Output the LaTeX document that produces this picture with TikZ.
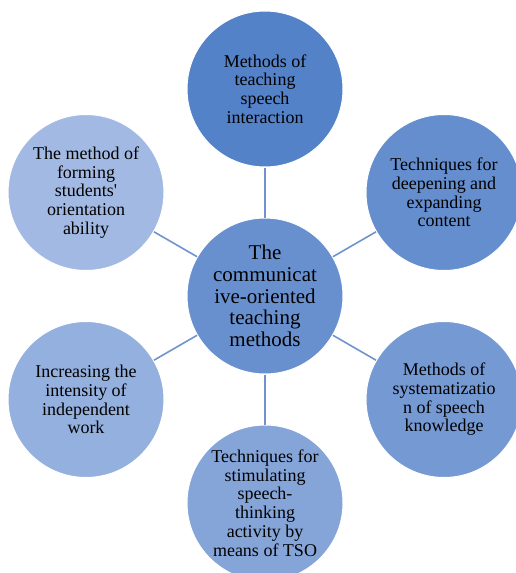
\documentclass[tikz,border=0pt]{standalone}
\usepackage{fontspec}
\setmainfont{Liberation Serif}[Ligatures=TeXOff]
\definecolor{hubblue}{RGB}{104,144,207}
\definecolor{ringA}{RGB}{84,130,200}
\definecolor{ringB}{RGB}{101,142,206}
\definecolor{ringC}{RGB}{117,153,211}
\definecolor{ringD}{RGB}{133,165,217}
\definecolor{ringE}{RGB}{147,176,222}
\definecolor{ringF}{RGB}{162,186,227}
\definecolor{linkblue}{RGB}{112,147,206}
\begin{document}
\begin{tikzpicture}[x=1pt,y=1pt,
 c/.style={circle,draw=white,line width=1pt,minimum size=156pt,inner sep=0pt,align=center,font=\fontsize{18}{18.7}\selectfont},a/.style={draw=linkblue,line width=1.6pt}]
\useasboundingbox (0,0) rectangle (516,-573);
\node[c,fill=hubblue,font=\fontsize{21}{21.7}\selectfont] (hub) at (265,-296) {The\\communicat\\ive-oriented\\teaching\\methods};
\node[c,fill=ringA] (interact) at (265,-89) {Methods of\\teaching\\speech\\interaction};
\node[c,fill=ringB] (deepen) at (444,-192.5) {Techniques for\\deepening and\\expanding\\content};
\node[c,fill=ringC] (system) at (444,-399.5) {Methods of\\systematizatio\\n of speech\\knowledge};
\node[c,fill=ringD] (stimul) at (265,-503) {Techniques for\\stimulating\\speech-\\thinking\\activity by\\means of TSO};
\node[c,fill=ringE] (indep) at (86,-399.5) {Increasing the\\intensity of\\independent\\work};
\node[c,fill=ringF] (orient) at (86,-192.5) {The method of\\forming\\students'\\orientation\\ability};
\draw[a] (hub)--(interact);\draw[a] (hub)--(deepen);\draw[a] (hub)--(system);\draw[a] (hub)--(stimul);\draw[a] (hub)--(indep);\draw[a] (hub)--(orient);
\end{tikzpicture}
\end{document}
